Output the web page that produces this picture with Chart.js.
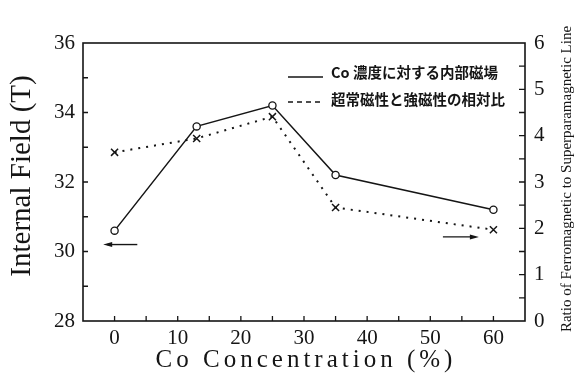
<!DOCTYPE html>
<html>
<head>
<meta charset="utf-8">
<script src="https://cdn.jsdelivr.net/npm/chart.js@4/dist/chart.umd.min.js"></script>
<style>
  html, body { margin: 0; padding: 0; background: #fff; }
  #wrap { width: 575px; height: 376px; }
</style>
</head>
<body>
<div id="wrap"><canvas id="c" width="575" height="376"></canvas></div>
<script>
// Co concentration (%) of the measured samples
const coConcentration = [0, 13, 25, 35, 60];
// Internal hyperfine field (T), left axis
const internalField = [30.6, 33.6, 34.2, 32.2, 31.2];
// Ferromagnetic / superparamagnetic line ratio, right axis
const lineRatio = [3.64, 3.94, 4.41, 2.45, 1.97];

// Tick values
const xTicks = [0, 10, 20, 30, 40, 50, 60];
const yTicks = [28, 30, 32, 34, 36];
const y2Ticks = [0, 1, 2, 3, 4, 5, 6];

// Legend and axis texts
const seriesNames = ['Co 濃度に対する内部磁場', '超常磁性と強磁性の相対比'];
const xTitle = 'Co Concentration (%)';
const yTitle = 'Internal Field (T)';
const y2Title = 'Ratio of Ferromagnetic to Superparamagnetic Line';

const SERIF = '"Liberation Serif", "DejaVu Serif", serif';
const INK = '#151515';

// Arrows telling which axis each curve belongs to (data coordinates)
const axisArrows = [
  { from: [3.6, 30.2], to: [-1.8, 30.2] },
  { from: [52.0, 30.42], to: [57.7, 30.42] }
];

const pts = (xs, ys) => xs.map((x, i) => ({ x, y: ys[i] }));

const decor = {
  id: 'decor',
  afterDraw(chart) {
    const { ctx, chartArea: a, scales } = chart;
    const sx = scales.x, sy = scales.y, sy2 = scales.y2;
    ctx.save();
    ctx.strokeStyle = INK;
    ctx.fillStyle = INK;

    // frame
    ctx.lineWidth = 1.6;
    ctx.strokeRect(a.left, a.top, a.right - a.left, a.bottom - a.top);

    // inward tick marks
    ctx.lineWidth = 1.3;
    ctx.beginPath();
    for (let v = 0; v <= 60; v += 5) {
      const px = sx.getPixelForValue(v);
      ctx.moveTo(px, a.bottom); ctx.lineTo(px, a.bottom - 5);
    }
    for (let v = 29; v <= 35; v += 1) {
      const py = sy.getPixelForValue(v);
      ctx.moveTo(a.left, py); ctx.lineTo(a.left + 5, py);
    }
    for (let v = 0.5; v < 6; v += 0.5) {
      const py = sy2.getPixelForValue(v);
      ctx.moveTo(a.right, py); ctx.lineTo(a.right - 6, py);
    }
    ctx.stroke();

    // axis arrows
    ctx.lineWidth = 1.4;
    axisArrows.forEach(ar => {
      const x0 = sx.getPixelForValue(ar.from[0]), y0 = sy.getPixelForValue(ar.from[1]);
      const x1 = sx.getPixelForValue(ar.to[0]), y1 = sy.getPixelForValue(ar.to[1]);
      const dir = Math.sign(x1 - x0);
      ctx.beginPath();
      ctx.moveTo(x0, y0); ctx.lineTo(x1 - dir * 4, y1);
      ctx.stroke();
      ctx.beginPath();
      ctx.moveTo(x1, y1);
      ctx.lineTo(x1 - dir * 9, y1 - 2.5);
      ctx.lineTo(x1 - dir * 9, y1 + 2.5);
      ctx.closePath();
      ctx.fill();
    });

    // legend
    const lx0 = 288, lx1 = 323, tx = 331;
    const rows = [72, 99];
    ctx.lineWidth = 1.6;
    ctx.beginPath();
    ctx.moveTo(lx0, rows[0] + 5); ctx.lineTo(lx1, rows[0] + 5);
    ctx.stroke();
    ctx.setLineDash([5, 4]);
    ctx.beginPath();
    ctx.moveTo(lx0, rows[1] + 3); ctx.lineTo(lx1, rows[1] + 3);
    ctx.stroke();
    ctx.setLineDash([]);
    ctx.font = '600 14.5px "Noto Sans CJK JP", sans-serif';
    ctx.textAlign = 'left';
    ctx.textBaseline = 'middle';
    ctx.fillText(seriesNames[0], tx, rows[0]);
    ctx.fillText(seriesNames[1], tx, rows[1]);

    // axis titles
    ctx.textAlign = 'center';
    ctx.textBaseline = 'middle';
    ctx.font = '25px ' + SERIF;
    ctx.letterSpacing = '4px';
    ctx.fillText(xTitle, (a.left + a.right) / 2 + 2, 360);
    ctx.letterSpacing = '0px';

    ctx.save();
    ctx.translate(22, 176);
    ctx.rotate(-Math.PI / 2);
    ctx.font = '29px ' + SERIF;
    ctx.fillText(yTitle, 0, 0);
    ctx.restore();

    ctx.save();
    ctx.translate(567, 179);
    ctx.rotate(-Math.PI / 2);
    ctx.font = '15px ' + SERIF;
    ctx.fillText(y2Title, 0, 0);
    ctx.restore();

    ctx.restore();
  }
};

const tickFont = { family: SERIF, size: 21 };
const setTicks = list => scale => { scale.ticks = list.map(v => ({ value: v })); };

new Chart(document.getElementById('c'), {
  type: 'line',
  data: {
    datasets: [
      {
        label: seriesNames[0],
        data: pts(coConcentration, internalField),
        yAxisID: 'y',
        borderColor: INK,
        borderWidth: 1.5,
        pointStyle: 'circle',
        pointRadius: 3.6,
        pointBorderWidth: 1.3,
        pointBackgroundColor: '#fff',
        pointBorderColor: INK,
        tension: 0
      },
      {
        label: seriesNames[1],
        data: pts(coConcentration, lineRatio),
        yAxisID: 'y2',
        borderColor: INK,
        borderWidth: 2,
        borderDash: [2, 6],
        pointStyle: 'crossRot',
        pointRadius: 5,
        pointBorderWidth: 1.5,
        pointBorderColor: INK,
        tension: 0
      }
    ]
  },
  options: {
    responsive: false,
    animation: false,
    layout: { padding: { top: 43, left: 0, right: 0, bottom: 0 } },
    plugins: { legend: { display: false }, tooltip: { enabled: false } },
    scales: {
      x: {
        type: 'linear', min: -5, max: 65,
        afterBuildTicks: setTicks(xTicks),
        afterFit: s => { s.height = 55; },
        grid: { display: false, drawTicks: false },
        border: { display: false },
        ticks: { color: INK, font: tickFont, padding: 5, maxRotation: 0 }
      },
      y: {
        position: 'left', min: 28, max: 36,
        afterBuildTicks: setTicks(yTicks),
        afterFit: s => { s.width = 83; },
        grid: { display: false, drawTicks: false },
        border: { display: false },
        ticks: { color: INK, font: tickFont, padding: 8 }
      },
      y2: {
        position: 'right', min: 0, max: 6,
        afterBuildTicks: setTicks(y2Ticks),
        afterFit: s => { s.width = 50; },
        grid: { display: false, drawTicks: false },
        border: { display: false },
        ticks: { color: INK, font: tickFont, padding: 9 }
      }
    }
  },
  plugins: [decor]
});
</script>
</body>
</html>
